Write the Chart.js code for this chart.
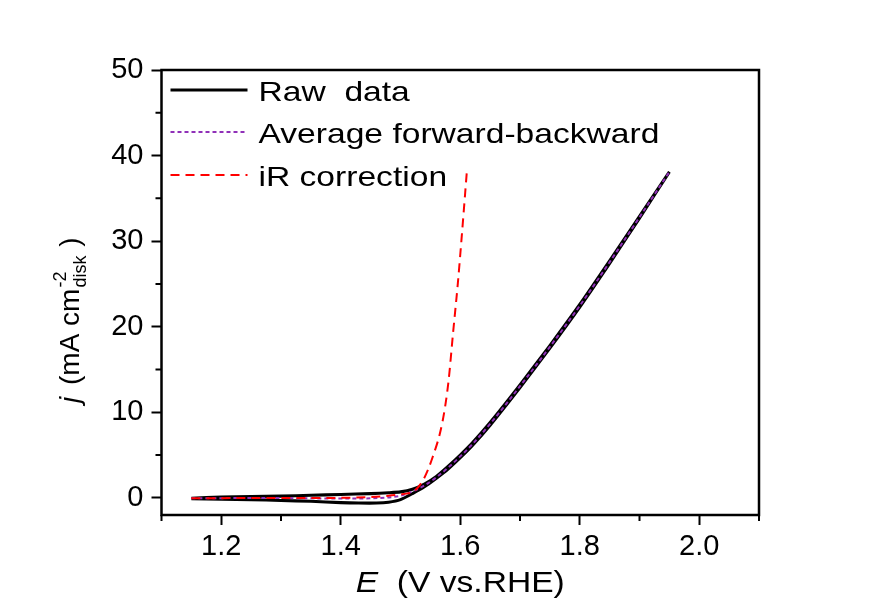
<!DOCTYPE html>
<html>
<head>
<meta charset="utf-8">
<script src="https://cdn.jsdelivr.net/npm/chart.js@4.4.1/dist/chart.umd.min.js"></script>
<style>
  html, body { margin: 0; padding: 0; background: #ffffff; }
  #wrap { width: 870px; height: 602px; }
</style>
</head>
<body>
<div id="wrap"><canvas id="c" width="870" height="602"></canvas></div>
<script>
// ---------- data ----------
const seriesNames = ['Raw  data', 'Average forward-backward', 'iR correction'];

// Raw data: forward scan then backward scan (CV loop)
const rawForwardE = [1.15, 1.20, 1.25, 1.30, 1.35, 1.40, 1.43, 1.46, 1.48, 1.50, 1.52, 1.54, 1.56, 1.58, 1.60, 1.62, 1.65, 1.70, 1.75, 1.80, 1.85, 1.90, 1.95];
const rawForwardJ = [-0.1, -0.15, -0.2, -0.3, -0.4, -0.55, -0.6, -0.6, -0.5, -0.2, 0.5, 1.3, 2.3, 3.4, 4.7, 6.1, 8.5, 12.9, 17.5, 22.3, 27.4, 32.7, 38.1];
const rawBackwardE = [1.95, 1.90, 1.85, 1.80, 1.75, 1.70, 1.65, 1.62, 1.60, 1.58, 1.56, 1.54, 1.52, 1.50, 1.48, 1.45, 1.40, 1.35, 1.30, 1.25, 1.20, 1.15];
const rawBackwardJ = [38.1, 32.9, 27.7, 22.6, 17.8, 13.2, 8.8, 6.4, 5.0, 3.7, 2.5, 1.6, 1.0, 0.7, 0.6, 0.5, 0.4, 0.3, 0.2, 0.15, 0.1, -0.05];

// Average of forward and backward scans
const avgE = [1.15, 1.20, 1.25, 1.30, 1.35, 1.40, 1.45, 1.48, 1.50, 1.52, 1.54, 1.56, 1.58, 1.60, 1.62, 1.65, 1.70, 1.75, 1.80, 1.85, 1.90, 1.95];
const avgJ = [-0.05, -0.03, -0.02, -0.02, -0.05, -0.08, -0.05, 0.05, 0.25, 0.75, 1.45, 2.4, 3.55, 4.85, 6.25, 8.65, 13.05, 17.65, 22.45, 27.55, 32.8, 38.1];

// iR-corrected curve
const irE = [1.15, 1.20, 1.25, 1.30, 1.35, 1.40, 1.45, 1.48, 1.50, 1.51, 1.521, 1.538, 1.554, 1.570, 1.580, 1.588, 1.596, 1.603, 1.611];
const irJ = [-0.05, -0.03, -0.02, 0.0, -0.02, 0.0, 0.1, 0.25, 0.4, 0.5, 0.7, 2.1, 4.8, 8.8, 13.4, 19.3, 25.1, 31.0, 38.1];

// axis ticks
const xTickLabels = [1.2, 1.4, 1.6, 1.8, 2.0];
const xMinorTicks = [1.1, 1.3, 1.5, 1.7, 1.9, 2.1];
const yTickLabels = [0, 10, 20, 30, 40, 50];
const yMinorTicks = [5, 15, 25, 35, 45];
const xRange = [1.1, 2.1];
const yRange = [-2, 50];

// ---------- helpers ----------
const FONT = '"Liberation Sans", Arial, Helvetica, sans-serif';
function pts(xs, ys) { return xs.map((x, i) => ({ x: x, y: ys[i] })); }

const rawData = pts(rawForwardE, rawForwardJ).concat(pts(rawBackwardE, rawBackwardJ));

const styles = [
  { color: '#000000', width: 3.1, dash: [] },
  { color: '#9030B8', width: 2, dash: [4, 3] },
  { color: '#FF0000', width: 2, dash: [9, 6] }
];

const decorPlugin = {
  id: 'decor',
  afterDraw(chart) {
    const ctx = chart.ctx;
    const ca = chart.chartArea;
    const xs = chart.scales.x, ys = chart.scales.y;
    ctx.save();
    // frame
    ctx.strokeStyle = '#000';
    ctx.lineWidth = 2.5;
    ctx.setLineDash([]);
    ctx.strokeRect(ca.left, ca.top, ca.right - ca.left, ca.bottom - ca.top);
    // minor ticks
    ctx.lineWidth = 2;
    ctx.beginPath();
    xMinorTicks.forEach(v => {
      const px = xs.getPixelForValue(v);
      ctx.moveTo(px, ca.bottom); ctx.lineTo(px, ca.bottom + 6);
    });
    yMinorTicks.forEach(v => {
      const py = ys.getPixelForValue(v);
      ctx.moveTo(ca.left, py); ctx.lineTo(ca.left - 6, py);
    });
    ctx.stroke();

    // legend (inside plot, top-left)
    const rows = [20, 62, 105];
    ctx.fillStyle = '#000';
    ctx.textBaseline = 'alphabetic';
    ctx.textAlign = 'left';
    seriesNames.forEach((name, i) => {
      const st = styles[i];
      const cy = ca.top + rows[i];
      ctx.strokeStyle = st.color;
      ctx.lineWidth = st.width;
      ctx.setLineDash(st.dash);
      ctx.beginPath();
      ctx.moveTo(ca.left + 9, cy);
      ctx.lineTo(ca.left + 86, cy);
      ctx.stroke();
      ctx.setLineDash([]);
      ctx.save();
      ctx.translate(ca.left + 97, cy + 11);
      ctx.scale(1.2, 1);
      ctx.font = '28px ' + FONT;
      ctx.fillText(name, 0, 0);
      ctx.restore();
    });

    // x-axis title: E (V vs.RHE)
    ctx.save();
    const xFont = 30;
    ctx.font = 'italic ' + xFont + 'px ' + FONT;
    const wE = ctx.measureText('E').width;
    ctx.font = xFont + 'px ' + FONT;
    const rest = '  (V vs.RHE)';
    const wR = ctx.measureText(rest).width;
    const sx = 1.12;
    const total = (wE + wR) * sx;
    const cx = (ca.left + ca.right) / 2;
    ctx.translate(cx - total / 2, 592);
    ctx.scale(sx, 1);
    ctx.font = 'italic ' + xFont + 'px ' + FONT;
    ctx.fillText('E', 0, 0);
    ctx.font = xFont + 'px ' + FONT;
    ctx.fillText(rest, wE, 0);
    ctx.restore();

    // y-axis title: j (mA cm^-2_disk)
    ctx.save();
    ctx.translate(79, 403);
    ctx.rotate(-Math.PI / 2);
    const yFont = 28;
    let x = 0;
    ctx.font = 'italic ' + yFont + 'px ' + FONT;
    ctx.fillText('j', x, 0);
    x += 18;
    ctx.font = yFont + 'px ' + FONT;
    ctx.fillText('(mA cm', x, 0);
    x += ctx.measureText('(mA cm').width;
    ctx.font = '18px ' + FONT;
    ctx.fillText('-2', x + 1, -13);
    const wSub = ctx.measureText('disk').width;
    ctx.fillText('disk', x + 1, 7);
    x += wSub + 2;
    ctx.font = yFont + 'px ' + FONT;
    ctx.fillText(' )', x, 0);
    ctx.restore();

    ctx.restore();
  }
};

new Chart(document.getElementById('c'), {
  type: 'scatter',
  data: {
    datasets: [
      {
        label: seriesNames[0], data: rawData, showLine: true,
        borderColor: styles[0].color, borderWidth: styles[0].width, borderDash: styles[0].dash,
        pointRadius: 0, tension: 0.2, order: 3
      },
      {
        label: seriesNames[1], data: pts(avgE, avgJ), showLine: true,
        borderColor: styles[1].color, borderWidth: styles[1].width, borderDash: styles[1].dash,
        pointRadius: 0, cubicInterpolationMode: 'monotone', order: 2
      },
      {
        label: seriesNames[2], data: pts(irE, irJ), showLine: true,
        borderColor: styles[2].color, borderWidth: styles[2].width, borderDash: styles[2].dash,
        pointRadius: 0, cubicInterpolationMode: 'monotone', order: 1
      }
    ]
  },
  options: {
    responsive: false,
    animation: false,
    devicePixelRatio: 1,
    layout: { padding: { left: 0, top: 70, right: 111, bottom: 0 } },
    plugins: { legend: { display: false }, tooltip: { enabled: false } },
    scales: {
      x: {
        type: 'linear', min: xRange[0], max: xRange[1],
        afterBuildTicks: (s) => { s.ticks = xTickLabels.map(v => ({ value: v })); },
        afterFit: (s) => { s.height = 87; },
        ticks: { color: '#000', font: { family: FONT, size: 29 }, padding: 5,
                 maxRotation: 0, autoSkip: false, callback: (v) => Number(v).toFixed(1) },
        grid: { drawOnChartArea: false, drawTicks: true, tickLength: 10, tickWidth: 2, tickColor: '#000' },
        border: { display: false },
        title: { display: false }
      },
      y: {
        type: 'linear', min: yRange[0], max: yRange[1],
        afterBuildTicks: (s) => { s.ticks = yTickLabels.map(v => ({ value: v })); },
        afterFit: (s) => { s.width = 161.5; },
        ticks: { color: '#000', font: { family: FONT, size: 29 }, padding: 8, autoSkip: false,
                 callback: (v) => String(v) },
        grid: { drawOnChartArea: false, drawTicks: true, tickLength: 10, tickWidth: 2, tickColor: '#000' },
        border: { display: false },
        title: { display: false }
      }
    }
  },
  plugins: [decorPlugin]
});
</script>
</body>
</html>
